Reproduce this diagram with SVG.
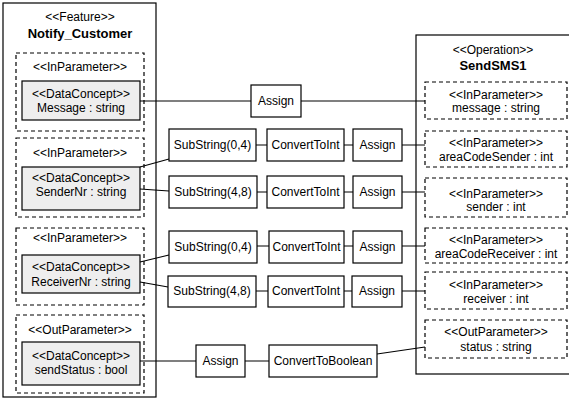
<svg xmlns="http://www.w3.org/2000/svg" width="569" height="400" viewBox="0 0 569 400">
<style>
text{font-family:"Liberation Sans",Arial,sans-serif;font-size:12px;text-anchor:middle;fill:#000}
.b{font-weight:bold;font-size:13px}
.outer{fill:#fff;stroke:#000;stroke-width:1.2}
.dash{fill:#fff;stroke:#000;stroke-width:1.2;stroke-dasharray:4,3}
.dc{fill:#eeeeee;stroke:#000;stroke-width:1.2}
.op{fill:#fff;stroke:#000;stroke-width:1.2}
.c{fill:none;stroke:#000;stroke-width:1.2}
</style>
<rect width="569" height="400" fill="#fff"/>
<g id="Notify_Customer">
<rect class="outer" x="3" y="3" width="153" height="394"/>
<text x="80" y="21">&lt;&lt;Feature&gt;&gt;</text>
<text class="b" x="80" y="38">Notify_Customer</text>
</g>
<g id="in_Message">
<rect class="dash" x="16" y="53" width="128" height="78"/>
<text x="80" y="71">&lt;&lt;InParameter&gt;&gt;</text>
<rect class="dc" x="22" y="81" width="118" height="39"/>
<text x="81" y="98">&lt;&lt;DataConcept&gt;&gt;</text>
<text x="81" y="112">Message : string</text>
</g>
<g id="in_SenderNr">
<rect class="dash" x="16" y="138" width="128" height="79"/>
<text x="80" y="157">&lt;&lt;InParameter&gt;&gt;</text>
<rect class="dc" x="22" y="167" width="118" height="43"/>
<text x="81" y="182">&lt;&lt;DataConcept&gt;&gt;</text>
<text x="81" y="196">SenderNr : string</text>
</g>
<g id="in_ReceiverNr">
<rect class="dash" x="16" y="228" width="128" height="77"/>
<text x="80" y="242">&lt;&lt;InParameter&gt;&gt;</text>
<rect class="dc" x="22" y="255" width="118" height="38"/>
<text x="81" y="271">&lt;&lt;DataConcept&gt;&gt;</text>
<text x="81" y="286">ReceiverNr : string</text>
</g>
<g id="out_sendStatus">
<rect class="dash" x="16" y="315" width="128" height="78"/>
<text x="80" y="334">&lt;&lt;OutParameter&gt;&gt;</text>
<rect class="dc" x="22" y="342" width="118" height="43"/>
<text x="81" y="360">&lt;&lt;DataConcept&gt;&gt;</text>
<text x="81" y="374">sendStatus : bool</text>
</g>
<g id="SendSMS1">
<rect class="outer" x="416" y="35" width="160" height="339"/>
<text x="493" y="54">&lt;&lt;Operation&gt;&gt;</text>
<text class="b" x="493" y="70">SendSMS1</text>
</g>
<g id="p_message">
<rect class="dash" x="425" y="82" width="142" height="37"/>
<text x="496" y="99">&lt;&lt;InParameter&gt;&gt;</text>
<text x="496" y="112">message : string</text>
</g>
<g id="p_areaCodeSender">
<rect class="dash" x="425" y="131" width="142" height="36"/>
<text x="496" y="147">&lt;&lt;InParameter&gt;&gt;</text>
<text x="496" y="161">areaCodeSender : int</text>
</g>
<g id="p_sender">
<rect class="dash" x="425" y="178" width="142" height="39"/>
<text x="496" y="198">&lt;&lt;InParameter&gt;&gt;</text>
<text x="496" y="211">sender : int</text>
</g>
<g id="p_areaCodeReceiver">
<rect class="dash" x="425" y="228" width="142" height="35"/>
<text x="496" y="244">&lt;&lt;InParameter&gt;&gt;</text>
<text x="496" y="258">areaCodeReceiver : int</text>
</g>
<g id="p_receiver">
<rect class="dash" x="425" y="272" width="142" height="37"/>
<text x="496" y="289">&lt;&lt;InParameter&gt;&gt;</text>
<text x="496" y="303">receiver : int</text>
</g>
<g id="p_status">
<rect class="dash" x="425" y="320" width="142" height="38"/>
<text x="496" y="336">&lt;&lt;OutParameter&gt;&gt;</text>
<text x="496" y="351">status : string</text>
</g>
<g id="connectors">
<path class="c" d="M140,101H251M301,101H425"/>
<path class="c" d="M140,167L169,159M256,145H267M344,145H353M402,145H425"/>
<path class="c" d="M140,189L169,191M257,192H267M344,192H353M402,192H425"/>
<path class="c" d="M140,262L169,255M257,246H269M344,246H353M402,246H425"/>
<path class="c" d="M140,282L168,287M256,291H268M344,291H352M402,291H425"/>
<path class="c" d="M140,361H196M245,361H269M377,354L425,347"/>
</g>
<g id="assign_msg"><rect class="op" x="251" y="85" width="50" height="32"/><text x="276" y="105">Assign</text></g>
<g id="sub1"><rect class="op" x="169" y="129" width="87" height="32"/><text x="212.5" y="149">SubString(0,4)</text></g>
<g id="conv1"><rect class="op" x="267" y="129" width="77" height="32"/><text x="305.5" y="149">ConvertToInt</text></g>
<g id="assign1"><rect class="op" x="353" y="129" width="49" height="32"/><text x="377.5" y="149">Assign</text></g>
<g id="sub2"><rect class="op" x="169" y="176" width="88" height="32"/><text x="213" y="196">SubString(4,8)</text></g>
<g id="conv2"><rect class="op" x="267" y="176" width="77" height="32"/><text x="305.5" y="196">ConvertToInt</text></g>
<g id="assign2"><rect class="op" x="353" y="176" width="49" height="32"/><text x="377.5" y="196">Assign</text></g>
<g id="sub3"><rect class="op" x="169" y="231" width="88" height="32"/><text x="213" y="251">SubString(0,4)</text></g>
<g id="conv3"><rect class="op" x="269" y="231" width="75" height="32"/><text x="306.5" y="251">ConvertToInt</text></g>
<g id="assign3"><rect class="op" x="353" y="231" width="49" height="32"/><text x="377.5" y="251">Assign</text></g>
<g id="sub4"><rect class="op" x="168" y="276" width="88" height="31"/><text x="212" y="295">SubString(4,8)</text></g>
<g id="conv4"><rect class="op" x="268" y="276" width="76" height="31"/><text x="306" y="295">ConvertToInt</text></g>
<g id="assign4"><rect class="op" x="352" y="276" width="50" height="31"/><text x="377" y="295">Assign</text></g>
<g id="assign5"><rect class="op" x="196" y="345" width="49" height="32"/><text x="220.5" y="365">Assign</text></g>
<g id="convBool"><rect class="op" x="269" y="345" width="108" height="32"/><text x="323" y="365">ConvertToBoolean</text></g>
</svg>
